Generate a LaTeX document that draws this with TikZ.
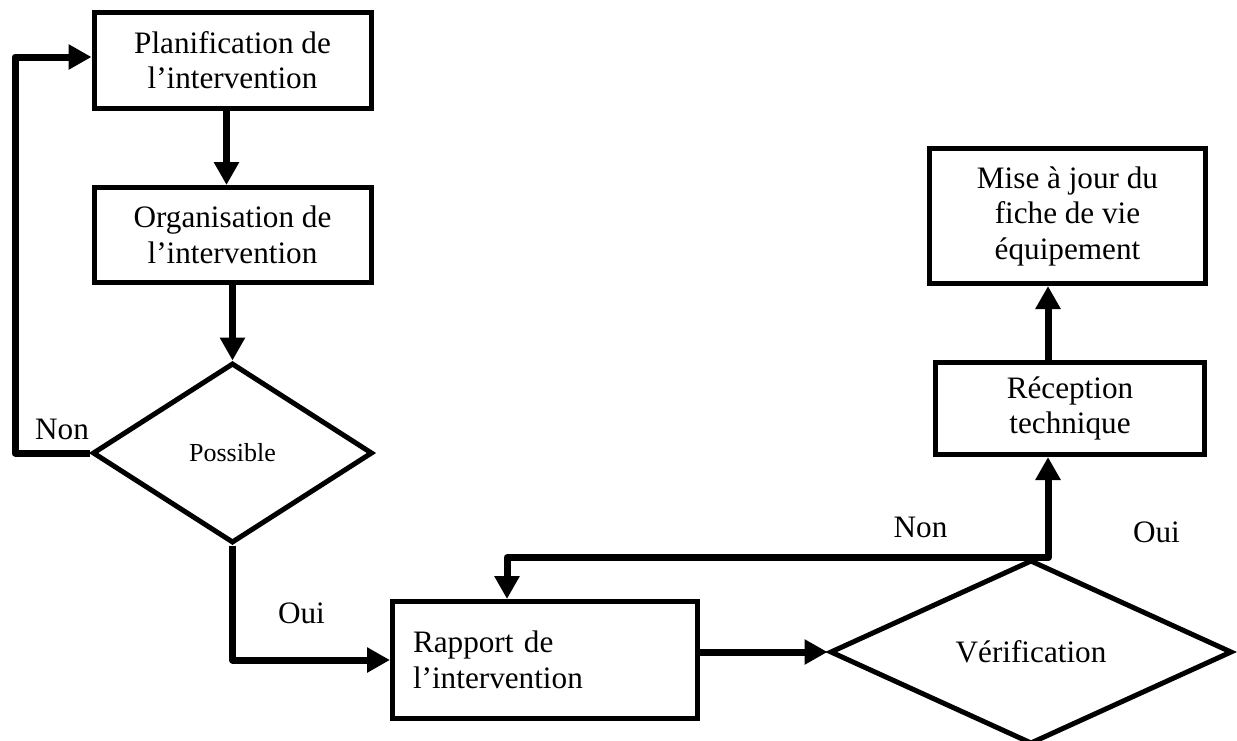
\documentclass[tikz,border=0pt]{standalone}
\usepackage{fontspec}
\setmainfont{Liberation Serif}
\usetikzlibrary{arrows.meta,shapes.geometric}
\begin{document}
\begin{tikzpicture}[x=0.5pt,y=-0.5pt,
  every node/.style={font=\fontsize{15.6}{17.75}\selectfont},
  stepbox/.style={draw, line width=2.5pt, rectangle, inner sep=0pt, align=center},
  decision/.style={draw, line width=2.5pt, diamond, inner sep=0pt, aspect=1},
  tip/.style={Triangle[length=11.5pt,width=12pt]},
  conn/.style={line width=3.5pt, line join=round, -{Triangle[length=11.5pt,width=12pt]}},
  conntwo/.style={line width=3.5pt, line join=round,
    {Triangle[length=11.5pt,width=12pt]}-{Triangle[length=11.5pt,width=12pt]}},
  tag/.style={anchor=base, inner sep=0pt}
]
\useasboundingbox (0,0) rectangle (1237,740);
\clip (0,0) rectangle (1237,740);

% process steps
\node[stepbox, minimum width=138.5pt, minimum height=48pt] (plan) at (232.5,60)
  {Planification de\\l’intervention};
\node[stepbox, minimum width=138.5pt, minimum height=47.5pt] (org) at (232.5,235)
  {Organisation de\\l’intervention};
\node[decision, minimum width=140pt, minimum height=90pt,
  font=\fontsize{13}{15}\selectfont] (poss) at (232.5,453) {Possible};
\node[stepbox, align=left, text width=132pt, inner xsep=10.25pt,
  minimum height=58.5pt] (rap) at (545,660) {Rapport de\\l’intervention};
\node[decision, minimum width=201pt, minimum height=92pt] (ver) at (1031,652)
  {Vérification};
\node[stepbox, minimum width=134.5pt, minimum height=46pt] (rec) at (1070,408.5)
  {Réception\\technique};
\node[stepbox, minimum width=138pt, minimum height=67.5pt] (mise) at (1067.5,216)
  {Mise à jour du\\fiche de vie\\équipement};

% connectors
\draw[conn] ([xshift=-3pt]plan.south) -- ([xshift=-3pt]org.north);
\draw[conn] (org.south) -- (poss.north);
\draw[conn] (poss.west) -- ++(-75,0) |- ([yshift=1.5pt]plan.west);
\draw[conn] (poss.south) |- (rap.west);
\draw[conn] (rap.east |- ver.west) -- (ver.west);
\coordinate (j) at ([xshift=8.5pt]ver.north);
\draw[conntwo] ([xshift=-19pt]rap.north) |- (j) -- (j |- rec.south);
\draw[conn] (j |- rec.north) -- (j |- mise.south);

% branch labels
\node[tag] (nonA) at (62,439) {Non};
\node[tag] (ouiA) at (301.5,623) {Oui};
\node[tag] (nonB) at (920.5,537) {Non};
\node[tag] (ouiB) at (1156.5,542) {Oui};
\end{tikzpicture}
\end{document}
